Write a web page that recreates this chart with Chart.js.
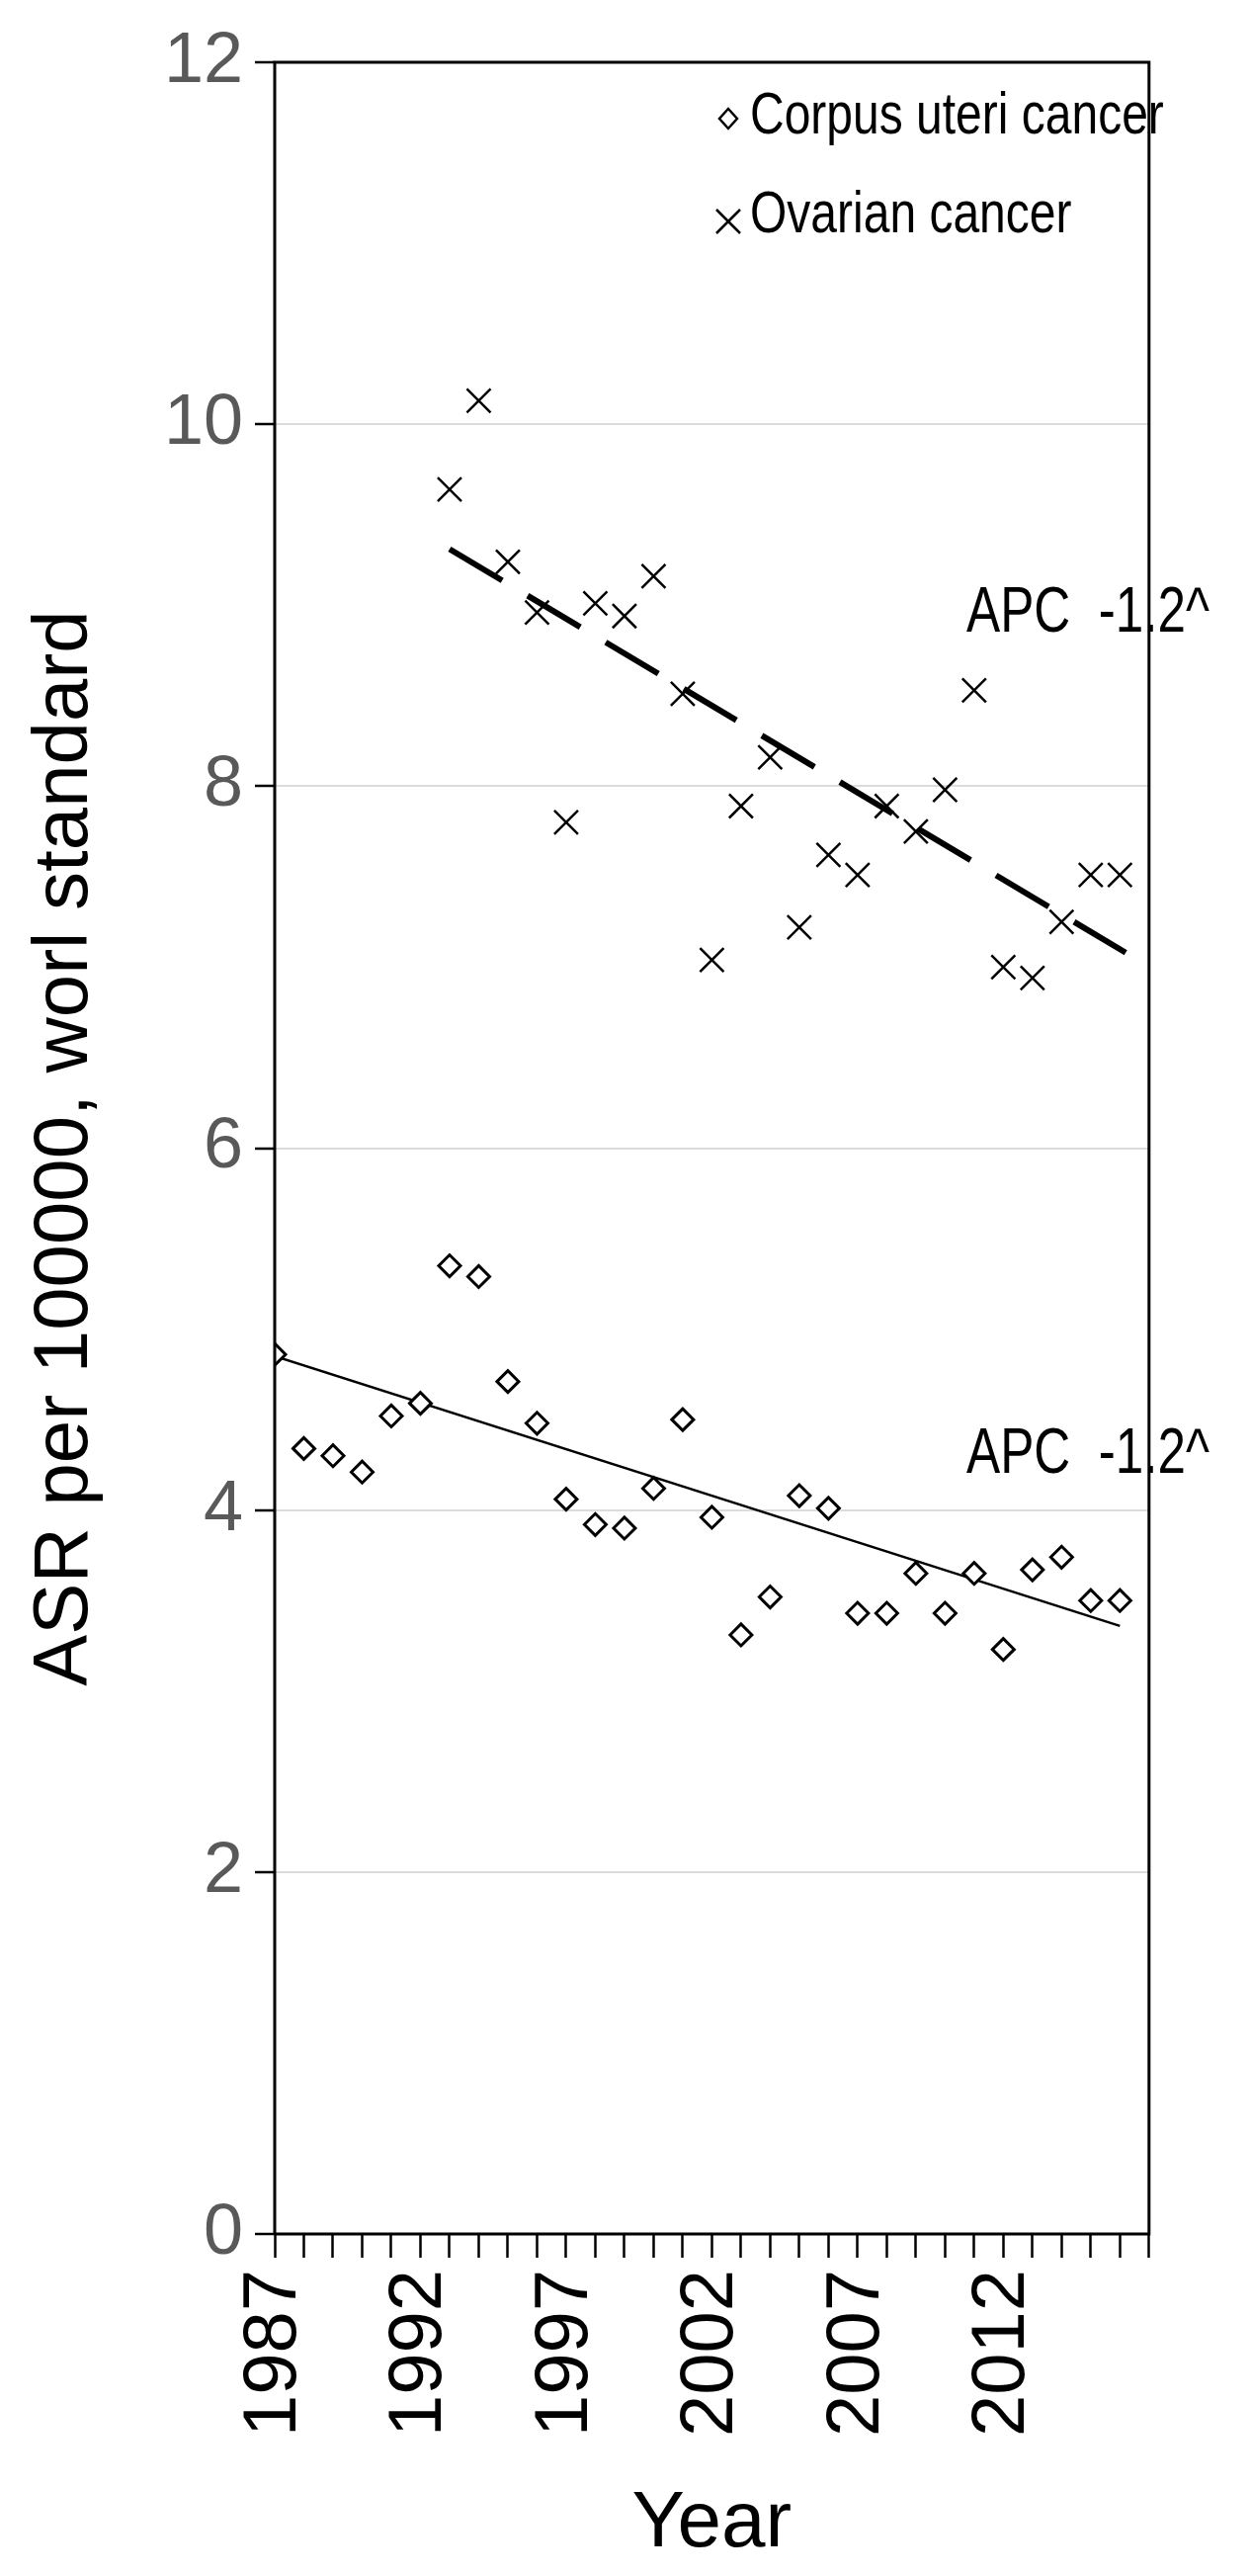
<!DOCTYPE html>
<html><head><meta charset="utf-8">
<script src="https://cdn.jsdelivr.net/npm/chart.js@4"></script>
<style>html,body{margin:0;padding:0;background:#fff}#wrap{width:1266px;height:2606px}</style>
</head><body><div id="wrap"><canvas id="c"></canvas></div>
<script>
const corpusYears = [1987,1988,1989,1990,1991,1992,1993,1994,1995,1996,1997,1998,1999,2000,2001,2002,2003,2004,2005,2006,2007,2008,2009,2010,2011,2012,2013,2014,2015,2016];
const corpusValues = [4.86,4.34,4.30,4.21,4.52,4.59,5.35,5.29,4.71,4.48,4.06,3.92,3.90,4.12,4.50,3.96,3.31,3.52,4.08,4.01,3.43,3.43,3.65,3.43,3.65,3.23,3.67,3.74,3.50,3.50];
const ovarianYears = [1993,1994,1995,1996,1997,1998,1999,2000,2001,2002,2003,2004,2005,2006,2007,2008,2009,2010,2011,2012,2013,2014,2015,2016];
const ovarianValues = [9.64,10.13,9.24,8.96,7.80,9.01,8.94,9.16,8.51,7.04,7.89,8.16,7.22,7.62,7.51,7.89,7.75,7.98,8.53,7.00,6.94,7.25,7.51,7.51];
const corpusTrendYears = [1987,2016];
const corpusTrendValues = [4.85,3.36];
const ovarianTrendYears = [1993,2016.2];
const ovarianTrendValues = [9.31,7.08];
const yTicks = [0,2,4,6,8,10,12];
const xLabelYears = [1987,1992,1997,2002,2007,2012];
const seriesNames = ['Corpus uteri cancer','Ovarian cancer'];
const apcLabels = ['APC  -1.2^','APC  -1.2^'];
const apcValues = [8.95,4.3];

const pts = (xs, ys) => xs.map((x,i)=>({x:x,y:ys[i]}));
const SANS = '"Liberation Sans", Arial, sans-serif';

function narrowText(ctx, text, x, y, sx, align){
  ctx.save();
  ctx.translate(x, y); ctx.scale(sx, 1);
  ctx.textAlign = align;
  ctx.fillText(text, 0, 0);
  ctx.restore();
}

const extras = {
  id:'extras',
  afterDraw(chart){
    const {ctx, chartArea:a, scales} = chart;
    ctx.save();
    ctx.strokeStyle='#000'; ctx.lineWidth=3;
    ctx.beginPath();
    ctx.moveTo(a.left,a.bottom); ctx.lineTo(a.left,a.top); ctx.lineTo(a.right,a.top); ctx.lineTo(a.right,a.bottom); ctx.lineTo(a.left,a.bottom);
    ctx.stroke();
    ctx.fillStyle='#000'; ctx.textBaseline='middle';
    ctx.font='60px '+SANS;
    const lx=737;
    ctx.lineWidth=2.5;
    ctx.beginPath(); ctx.moveTo(lx,110); ctx.lineTo(lx+9,120); ctx.lineTo(lx,130); ctx.lineTo(lx-9,120); ctx.closePath(); ctx.stroke();
    narrowText(ctx, seriesNames[0], 759, 118, 0.8, 'left');
    ctx.beginPath(); ctx.moveTo(lx-12,212); ctx.lineTo(lx+12,236); ctx.moveTo(lx+12,212); ctx.lineTo(lx-12,236); ctx.stroke();
    narrowText(ctx, seriesNames[1], 759, 218, 0.8, 'left');
    ctx.font='64px '+SANS;
    apcValues.forEach((v,i)=>{ narrowText(ctx, apcLabels[i], 1224, scales.y.getPixelForValue(v), 0.8, 'right'); });
    ctx.restore();
  }
};

new Chart(document.getElementById('c'), {
  type:'scatter',
  data:{datasets:[
    {label:seriesNames[0], data:pts(corpusYears,corpusValues), pointStyle:'rectRot', radius:11, borderColor:'#000', backgroundColor:'#fff', borderWidth:3},
    {label:seriesNames[1], data:pts(ovarianYears,ovarianValues), pointStyle:'crossRot', radius:17, borderColor:'#000', borderWidth:2.5},
    {label:'t1', data:pts(corpusTrendYears,corpusTrendValues), showLine:true, radius:0, borderColor:'#000', borderWidth:2.5},
    {label:'t2', data:pts(ovarianTrendYears,ovarianTrendValues), showLine:true, radius:0, borderColor:'#000', borderWidth:6, borderDash:[62,30]}
  ]},
  options:{
    responsive:true, maintainAspectRatio:false, animation:false,
    layout:{padding:{top:63,right:23,left:0,bottom:0}},
    plugins:{legend:{display:false}, tooltip:{enabled:false}},
    scales:{
      x:{type:'linear', min:1987, max:2017,
        afterFit(s){ s.height = 2606-2260; },
        afterBuildTicks(s){ s.ticks = []; for(let y=1987;y<=2017;y++) s.ticks.push({value:y}); },
        ticks:{autoSkip:false, maxRotation:90, minRotation:90, color:'#000', font:{size:76, family:SANS}, padding:12,
          callback:(v)=> xLabelYears.includes(v) ? String(v) : ''},
        grid:{drawOnChartArea:false, tickLength:24, tickColor:'#000', tickWidth:2.5},
        border:{display:false},
        title:{display:true, text:'Year', color:'#000', font:{size:80, family:SANS}, padding:{top:0,bottom:4}}
      },
      y:{min:0, max:12,
        afterFit(s){ s.width = 278; },
        afterBuildTicks(s){ s.ticks = yTicks.map(v=>({value:v})); },
        ticks:{color:'#595959', font:{size:72, family:SANS}, padding:12},
        grid:{color:'#dcdcdc', lineWidth:2, tickLength:20, tickColor:'#000', tickWidth:2.5},
        border:{display:false},
        title:{display:true, text:'ASR per 100000, worl standard', color:'#000', font:{size:78, family:SANS}, padding:{top:20,bottom:10}}
      }
    }
  },
  plugins:[extras]
});
</script></body></html>
